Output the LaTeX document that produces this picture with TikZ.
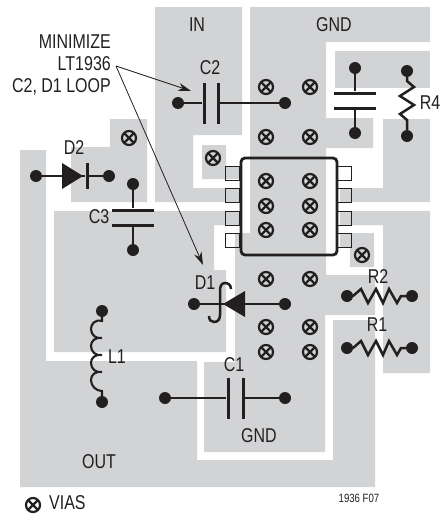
\documentclass[tikz,border=0pt]{standalone}
\usepackage{fontspec}
\setmainfont[FakeStretch=0.8]{Liberation Sans}
\usetikzlibrary{arrows.meta}
\definecolor{copper}{HTML}{D1D3D4}
\definecolor{ink}{HTML}{231F20}
\begin{document}
\begin{tikzpicture}[
		x=1pt,y=-1pt,
		trace/.style={fill=copper,draw=none},
		lbl/.style={text=ink,inner sep=0pt,font=\fontsize{20}{22}\selectfont},
		wire/.style={draw=ink,line width=2.5pt,line join=miter},
		term/.style={circle,fill=ink,inner sep=0pt,minimum size=12pt},
		vplate/.style={fill=ink,inner sep=0pt,minimum width=3pt,minimum height=41pt},
		hplate/.style={fill=ink,inner sep=0pt,minimum width=42pt,minimum height=3pt},
		pin/.style={draw=ink,line width=1pt,inner sep=0pt,minimum width=14pt,minimum height=14pt},
		via/.style={circle,draw=ink,line width=2.2pt,inner sep=0pt,minimum size=14pt,
				path picture={
						\draw[ink,line width=2.2pt]
						(path picture bounding box.north west) -- (path picture bounding box.south east)
						(path picture bounding box.north east) -- (path picture bounding box.south west);
					}},
		note/.style={draw=ink,line width=0.8pt,-{Stealth[length=13pt,width=8pt]}}
	]
	\useasboundingbox (0,0) rectangle (442,514);

	\fill[trace] (155,7) -- (242,7) -- (242,135) -- (193,135) -- (193,188) -- (240,188) -- (240,202) -- (155,202) -- cycle;
	\fill[trace] (202,145) -- (226,145) -- (226,166) -- (240,166) -- (240,179) -- (202,179) -- cycle;
	\fill[trace] (250,7) -- (430,7) -- (430,42) -- (326,42) -- (326,118) -- (373,118) -- (373,148) -- (326,148)
		-- (326,275) -- (375,275) -- (375,315) -- (325,315) -- (325,452) -- (204,452) -- (204,362) -- (235,362)
		-- (235,233) -- (250,233) -- cycle;
	\fill[trace] (335,51) rectangle (430,88);
	\fill[trace] (383,119) -- (430,119) -- (430,202) -- (340,202) -- (340,188) -- (383,188) -- cycle;
	\fill[trace] (340,211) -- (430,211) -- (430,373) -- (383,373) -- (383,225) -- (340,225) -- cycle;
	\fill[trace] (340,233) -- (374,233) -- (374,267) -- (350,267) -- (350,247) -- (340,247) -- cycle;
	\fill[trace] (110,119) -- (147,119) -- (147,202) -- (71,202) -- (71,147) -- (110,147) -- cycle;
	\fill[trace] (54,211) -- (240,211) -- (240,225) -- (214,225) -- (214,270) -- (226,270) -- (226,352) -- (54,352) -- cycle;
	\fill[trace] (20,150) -- (46,150) -- (46,361) -- (197,361) -- (197,460) -- (333,460) -- (333,320) -- (375,320)
		-- (375,487) -- (20,487) -- cycle;

	\node[pin] (pin1) at (232,173) {};
	\node[pin] (pin2) at (232,195) {};
	\node[pin] (pin3) at (232,218) {};
	\node[pin] (pin4) at (232,240) {};
	\node[pin] (pin5) at (344,173) {};
	\node[pin] (pin6) at (344,195) {};
	\node[pin] (pin7) at (344,218) {};
	\node[pin] (pin8) at (344,240) {};
	\draw[ink,line width=2.8pt,rounded corners=4pt] (241,158) rectangle (337,255);

	\node[via] (via1) at (266,87) {};
	\node[via] (via2) at (310,87) {};
	\node[via] (via3) at (266,137) {};
	\node[via] (via4) at (310,137) {};
	\node[via] (via5) at (266,181) {};
	\node[via] (via6) at (310,181) {};
	\node[via] (via7) at (266,206) {};
	\node[via] (via8) at (310,206) {};
	\node[via] (via9) at (266,230) {};
	\node[via] (via10) at (310,230) {};
	\node[via] (via11) at (266,279) {};
	\node[via] (via12) at (310,279) {};
	\node[via] (via13) at (266,327) {};
	\node[via] (via14) at (310,327) {};
	\node[via] (via15) at (266,352) {};
	\node[via] (via16) at (310,352) {};
	\node[via] (via17) at (129,138) {};
	\node[via] (via18) at (213,158) {};
	\node[via] (via19) at (362,255) {};
	\node[via] (legend) at (33,505) {};

	\node[term] (c2a) at (178,103) {};
	\node[term] (c2b) at (285,103) {};
	\node[vplate] (c2l) at (204,103) {};
	\node[vplate] (c2r) at (218,103) {};
	\draw[wire] (c2a) -- (c2l);
	\draw[wire] (c2r) -- (c2b);

	\node[term] (c4a) at (355,68) {};
	\node[term] (c4b) at (355,133) {};
	\node[hplate] (c4t) at (355,93) {};
	\node[hplate] (c4d) at (355,108) {};
	\draw[wire] (c4a) -- (c4t);
	\draw[wire] (c4d) -- (c4b);

	\node[term] (c3a) at (133,184) {};
	\node[term] (c3b) at (133,250) {};
	\node[hplate] (c3t) at (133,210) {};
	\node[hplate] (c3d) at (133,225) {};
	\draw[wire] (c3a) -- (c3t);
	\draw[wire] (c3d) -- (c3b);

	\node[term] (c1a) at (165,398) {};
	\node[term] (c1b) at (285,398) {};
	\node[vplate] (c1l) at (228,398) {};
	\node[vplate] (c1r) at (243,398) {};
	\draw[wire] (c1a) -- (c1l);
	\draw[wire] (c1r) -- (c1b);

	\node[term] (d2a) at (36,176) {};
	\node[term] (d2b) at (109,176) {};
	\node[vplate,minimum height=26pt] (d2k) at (87,176) {};
	\fill[ink] (62,163) -- (83,176) -- (62,189) -- cycle;
	\draw[wire] (d2a) -- (d2k);
	\draw[wire] (d2k) -- (d2b);

	\node[term] (d1a) at (194,304) {};
	\node[term] (d1b) at (285,304) {};
	\coordinate (d1k) at (220,304);
	\fill[ink] (245,291) -- (223,304) -- (245,317) -- cycle;
	\draw[wire] (d1a) -- (d1k);
	\draw[wire] (d1k) -- (d1b);
	\draw[wire] (231,289) .. controls (231,284) and (227,283) .. (225,283)
		.. controls (221,283) and (220,287) .. (220,291) -- (220,315)
		.. controls (220,319) and (218,322) .. (214,322) .. controls (211,322) and (209,320) .. (209,316);

	\node[term] (r4a) at (407,71) {};
	\node[term] (r4b) at (407,136) {};
	\draw[wire] (r4a) -- (407,81) -- (414,87) -- (400,96) -- (414,105) -- (400,114) -- (407,120) -- (r4b);

	\node[term] (r2a) at (347,296) {};
	\node[term] (r2b) at (412,296) {};
	\draw[wire] (r2a) -- (353,296) -- (361,289) -- (368,303) -- (376,289) -- (383,303) -- (389,289) -- (397,303) -- (401,296) -- (r2b);

	\node[term] (r1a) at (347,348) {};
	\node[term] (r1b) at (412,348) {};
	\draw[wire] (r1a) -- (353,348) -- (361,341) -- (368,355) -- (376,341) -- (383,355) -- (389,341) -- (397,355) -- (401,348) -- (r1b);

	\node[term] (l1a) at (102,311) {};
	\node[term] (l1b) at (102,402) {};
	\draw[wire,line width=2.1pt] (l1a) -- (102,321) .. controls (95,319) and (91,324) .. (91,329) .. controls (91,335) and (96,339) .. (102,338)
		.. controls (95,337) and (91,341) .. (91,346) .. controls (91,352) and (96,356) .. (102,355)
		.. controls (95,354) and (91,358) .. (91,363) .. controls (91,369) and (96,373) .. (102,372)
		.. controls (95,371) and (91,375) .. (91,380) .. controls (91,386) and (96,391) .. (102,391) -- (l1b);

	\node[lbl] (in) at (197,25) {IN};
	\node[lbl] (gndtop) at (334,25) {GND};
	\node[lbl] (gndbot) at (259,436) {GND};
	\node[lbl] (out) at (99,462) {OUT};
	\node[lbl] (c2) at (210,68) {C2};
	\node[lbl] (c3) at (99,217) {C3};
	\node[lbl] (c1) at (234,365) {C1};
	\node[lbl] (d2) at (74,148) {D2};
	\node[lbl] (d1) at (205,283) {D1};
	\node[lbl] (r4) at (430,103) {R4};
	\node[lbl] (r2) at (378,277) {R2};
	\node[lbl] (r1) at (377,325) {R1};
	\node[lbl] (l1) at (117,357) {L1};
	\node[lbl,anchor=west] (vias) at (49,503) {VIAS};
	\node[lbl,font=\fontsize{12}{13}\selectfont] (fig) at (359,498) {1936 F07};
	\node[lbl,anchor=east,align=right] (minimize) at (111,65) {MINIMIZE\\LT1936\\C2, D1 LOOP};

	\coordinate (from) at (116,66);
	\coordinate (toc2) at (191,91);
	\coordinate (tod1) at (203,265);
	\draw[note] (from) -- (toc2);
	\draw[note] (from) -- (tod1);
\end{tikzpicture}
\end{document}
